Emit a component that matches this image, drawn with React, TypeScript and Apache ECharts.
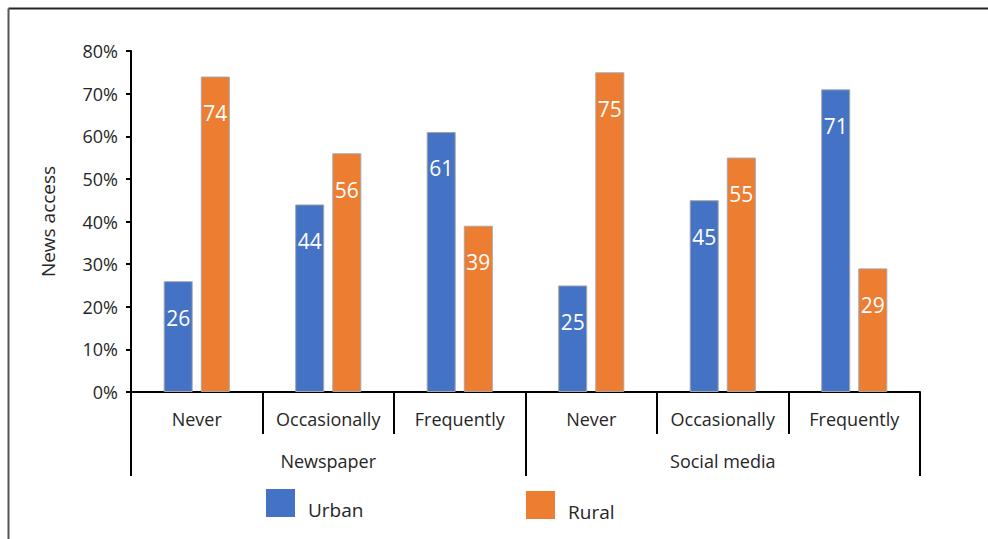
import React, { useEffect, useRef } from "react";
import * as echarts from "echarts";

const subCategories = ["Never", "Occasionally", "Frequently", "Never", "Occasionally", "Frequently"];
const groups = ["Newspaper", "Social media"];
const urban = [26, 44, 61, 25, 45, 71];
const rural = [74, 56, 39, 75, 55, 29];

const FONT = "'Open Sans', 'Noto Sans', sans-serif";
const TEXT = "#262626";

export default function App() {
  const ref = useRef<HTMLDivElement>(null);

  useEffect(() => {
    if (!ref.current) return;
    const chart = echarts.init(ref.current, undefined, { renderer: "svg" });

    const barLabel = {
      show: true,
      position: "insideTop" as const,
      distance: 26,
      color: "#ffffff",
      fontSize: 21,
      fontFamily: FONT,
    };

    // legend captions sit a little below the centre of their swatches
    const legendText = () => ({
      fontSize: 19,
      color: TEXT,
      fontFamily: FONT,
      rich: {
        t: { fontSize: 19, color: TEXT, fontFamily: FONT, padding: [14, 0, 0, 8] },
      },
    });

    chart.setOption({
      animation: false,
      backgroundColor: "#ffffff",
      textStyle: { fontFamily: FONT },
      grid: { left: 131, right: 68, top: 51, bottom: 147, containLabel: false },
      legend: [
        {
          data: ["Urban"],
          left: 266,
          top: 489,
          padding: 0,
          icon: "rect",
          itemWidth: 29,
          itemHeight: 28,
          itemStyle: { borderWidth: 0 },
          formatter: "{t|{name}}",
          textStyle: legendText(),
        },
        {
          data: ["Rural"],
          left: 526,
          top: 491,
          padding: 0,
          icon: "rect",
          itemWidth: 29,
          itemHeight: 28,
          itemStyle: { borderWidth: 0 },
          formatter: "{t|{name}}",
          textStyle: legendText(),
        },
      ],
      xAxis: [
        {
          type: "category",
          data: subCategories,
          position: "bottom",
          axisLine: { show: true, lineStyle: { color: "#000000", width: 2 } },
          axisTick: { show: true, interval: 0, length: 42, lineStyle: { color: "#000000", width: 2 } },
          axisLabel: { interval: 0, margin: 18, fontSize: 18, color: TEXT, fontFamily: FONT },
        },
        {
          type: "category",
          data: groups,
          position: "bottom",
          axisLine: { show: false },
          axisTick: { show: true, interval: 0, length: 84, lineStyle: { color: "#000000", width: 2 } },
          axisLabel: { interval: 0, margin: 60, fontSize: 18, color: TEXT, fontFamily: FONT },
        },
      ],
      yAxis: {
        type: "value",
        min: 0,
        max: 80,
        interval: 10,
        name: "News access",
        nameLocation: "middle",
        nameGap: 74,
        nameTextStyle: { fontSize: 19, color: TEXT, fontFamily: FONT },
        axisLine: { show: true, lineStyle: { color: "#000000", width: 2 } },
        axisTick: { show: true, length: 5, lineStyle: { color: "#000000", width: 2 } },
        axisLabel: { formatter: "{value}%", margin: 13, fontSize: 18, color: TEXT, fontFamily: FONT },
        splitLine: { show: false },
      },
      series: [
        {
          name: "Urban",
          type: "bar",
          xAxisIndex: 0,
          data: urban,
          barWidth: 29,
          barGap: "28%",
          itemStyle: { color: "#4472C4", borderColor: "#a6a6a6", borderWidth: 1 },
          label: barLabel,
        },
        {
          name: "Rural",
          type: "bar",
          xAxisIndex: 0,
          data: rural,
          barWidth: 29,
          barGap: "28%",
          itemStyle: { color: "#ED7D31", borderColor: "#a6a6a6", borderWidth: 1 },
          label: barLabel,
        },
      ],
      graphic: [
        {
          type: "line",
          silent: true,
          shape: { x1: 8.5, y1: 8.5, x2: 988, y2: 8.5 },
          style: { stroke: "#262626", lineWidth: 2 },
        },
        {
          type: "line",
          silent: true,
          shape: { x1: 8.5, y1: 8.5, x2: 8.5, y2: 539 },
          style: { stroke: "#555555", lineWidth: 2 },
        },
      ],
    });

    return () => chart.dispose();
  }, []);

  return (
    <div
      ref={ref}
      style={{ position: "absolute", left: 0, top: 0, width: 988, height: 539 }}
    />
  );
}
